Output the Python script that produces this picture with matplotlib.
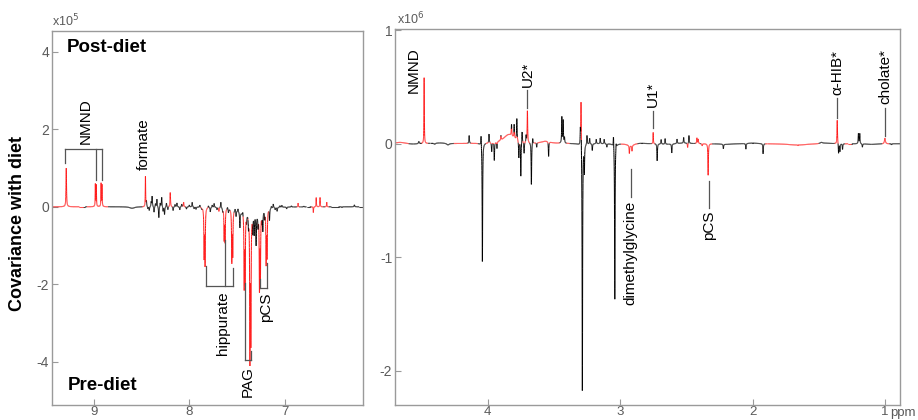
import matplotlib
matplotlib.use('Agg')
import matplotlib.pyplot as plt
import numpy as np
from matplotlib.collections import LineCollection

plt.rcParams['font.family'] = ['Liberation Sans', 'DejaVu Sans']
plt.rcParams['axes.unicode_minus'] = False

# aromatic region (left), covariance in units of 1e5
# sig = 1 -> significant correlation (drawn red)
arom_ppm = [9.29, 8.985, 8.975, 8.925, 8.915, 8.46, 8.20, 8.06,
            7.845, 7.835, 7.69, 7.635, 7.625, 7.555, 7.545, 7.425, 7.415,
            7.365, 7.355, 7.265, 7.255, 7.195, 7.185,
            6.86, 6.70, 6.67, 6.63, 6.56,
            8.60, 8.45, 8.435, 8.42, 8.40, 8.39, 8.37, 8.355, 8.34, 8.32, 8.305,
            8.29, 8.275, 8.26, 8.24, 8.225, 8.17, 8.15, 8.13, 8.10, 8.08, 8.03,
            8.00, 7.97, 7.95, 7.93, 7.89, 7.87, 7.80, 7.78, 7.76, 7.74, 7.71,
            7.67, 7.65, 7.60, 7.59, 7.52, 7.51, 7.49, 7.47, 7.44, 7.40, 7.38,
            7.335, 7.32, 7.30, 7.28, 7.24, 7.23, 7.21, 7.16, 7.14, 7.12, 7.10,
            7.08, 7.05, 7.03, 6.98, 6.93, 6.80, 6.40, 6.27,
            7.45, 7.30]
arom_cov = [1.00, 0.58, 0.56, 0.60, 0.56, 0.78, 0.37, 0.12,
            -1.25, -1.45, -0.10, -0.80, -0.85, -1.32, -1.15, -1.88, -1.70,
            -3.70, -3.20, -1.93, -1.60, -1.37, -1.20,
            0.10, -0.15, 0.24, 0.24, 0.12,
            -0.04, 0.14, -0.06, -0.10, 0.12, 0.27, -0.15, 0.08, 0.20, -0.29, 0.10,
            0.25, -0.12, -0.20, 0.10, -0.08, -0.10, 0.06, 0.10, -0.08, 0.07, -0.06,
            0.05, 0.12, -0.05, -0.06, 0.06, -0.04, 0.05, -0.12, 0.06, 0.10, -0.06,
            0.15, -0.08, 0.05, -0.10, 0.06, -0.15, 0.08, -0.40, 0.10, -0.20, -0.30,
            -0.45, -0.50, -0.77, -0.30, -0.25, -0.50, -0.20, -0.30, 0.05, 0.10, -0.06,
            -0.10, 0.04, 0.05, -0.05, 0.03, 0.02, -0.02, 0.05,
            -0.12, -0.15]
arom_hw = [0.003, 0.002, 0.002, 0.002, 0.002, 0.002, 0.003, 0.003,
           0.003, 0.003, 0.003, 0.003, 0.003, 0.003, 0.003, 0.003, 0.003,
           0.003, 0.003, 0.003, 0.003, 0.003, 0.003,
           0.002, 0.002, 0.002, 0.002, 0.002,
           0.03] + [0.003] * 62 + [0.08, 0.05]
arom_sig = [1] * 28 + [0] * 65

# aliphatic region (right), covariance in units of 1e6
aliph_ppm = [4.48, 4.66, 3.84, 3.70, 3.56, 3.295, 2.93, 2.91, 2.92, 2.75,
             2.49, 2.42, 2.41, 2.38, 2.335, 1.66, 1.36, 1.00,
             4.52, 4.40, 4.30, 4.14, 4.05, 4.04, 3.99, 3.97, 3.95, 3.93,
             3.90, 3.82, 3.80, 3.78, 3.765, 3.75, 3.74, 3.725, 3.71, 3.67, 3.66,
             3.63, 3.54, 3.44, 3.43, 3.42, 3.30, 3.285, 3.27, 3.25, 3.23, 3.21,
             3.18, 3.15, 3.12, 3.10, 3.05, 3.04, 3.03, 2.72, 2.69, 2.66, 2.61,
             2.57, 2.52, 2.48, 2.22, 2.05, 1.92, 1.48, 1.35, 1.34, 1.32, 1.20,
             1.19, 1.17, 0.95,
             4.57, 4.36, 2.85, 2.65, 2.52, 2.20, 2.00, 1.45, 1.10]
aliph_cov = [0.58, 0.012, 0.08, 0.28, 0.02, 0.43, -0.07, -0.05, -0.02, 0.10,
             -0.04, 0.05, 0.04, -0.02, -0.28, -0.012, 0.21, 0.05,
             0.02, -0.01, -0.015, 0.07, 0.10, -1.05, 0.08, -0.08, -0.16, -0.06,
             0.04, 0.10, 0.12, 0.19, -0.15, -0.31, 0.10, -0.10, 0.06, -0.37, 0.05,
             -0.04, -0.13, 0.23, 0.20, 0.05, 0.15, -2.20, -0.24, 0.08, 0.05, -0.06,
             0.04, 0.05, 0.04, -0.03, 0.11, -1.38, 0.05, -0.15, 0.04, 0.05, -0.08,
             0.04, 0.05, 0.07, -0.04, -0.05, -0.09, 0.01, -0.09, -0.07, -0.05, 0.09,
             0.09, -0.03, -0.01,
             -0.006, 0.006, 0.006, -0.006, 0.006, -0.006, 0.006, 0.006, -0.006]
aliph_hw = [0.0015, 0.05, 0.05, 0.002, 0.04, 0.0015, 0.002, 0.002, 0.03, 0.0015,
            0.002, 0.002, 0.002, 0.002, 0.002, 0.09, 0.002, 0.004,
            0.003, 0.005, 0.01] + [0.002] * 46 + [0.01] + [0.002] * 7 + [0.05] * 9
aliph_sig = [1] * 18 + [0] * 66

# annotations: text, ppm, y, vertical alignment
arom_labels = [('NMND', 9.09, 1.62, 'bottom'),
               ('formate', 8.48, 0.95, 'bottom'),
               ('hippurate', 7.65, -2.18, 'top'),
               ('PAG', 7.39, -4.12, 'top'),
               ('pCS', 7.20, -2.22, 'top')]
# brackets: leg ppm, leg end y, bar y
arom_brackets = [([9.30, 8.98, 8.92], [1.13, 0.70, 0.70], 1.49),
                 ([7.83, 7.63, 7.54], [-1.52, -0.85, -1.58], -2.06),
                 ([7.42, 7.35], [-1.96, -3.73], -3.97),
                 ([7.26, 7.19], [-1.88, -1.45], -2.10)]

# text, ppm, y, vertical alignment, leader line (y0, y1)
aliph_labels = [('NMND', 4.555, 0.65, 'center', None),
                ('U2*', 3.70, 0.50, 'bottom', (0.47, 0.31)),
                ('U1*', 2.75, 0.32, 'bottom', (0.29, 0.135)),
                ('\u03b1-HIB*', 1.36, 0.43, 'bottom', (0.40, 0.23)),
                ('cholate*', 1.00, 0.35, 'bottom', (0.31, 0.07)),
                ('dimethylglycine', 2.92, -0.50, 'top', (-0.22, -0.47)),
                ('pCS', 2.33, -0.59, 'top', (-0.33, -0.57))]

RED = '#ff1a1a'
LEAD = '#555555'
GREY = '#5a5a5a'


def draw_spectrum(ax, lo, hi, n, ppm, cov, hw, sig):
    grid = np.linspace(lo, hi, n)
    ppm = np.asarray(ppm)
    hw = np.asarray(hw)
    parts = np.asarray(cov) * hw ** 2 / ((grid[:, None] - ppm[None, :]) ** 2 + hw ** 2)
    y = parts.sum(axis=1)
    dom = np.argmax(np.abs(parts), axis=1)
    cols = np.where(np.asarray(sig)[dom] == 1, RED, 'black')
    pts = np.column_stack([grid, y])
    segs = np.stack([pts[:-1], pts[1:]], axis=1)
    lc = LineCollection(segs, colors=cols[:-1], linewidths=0.75)
    ax.add_collection(lc)


def style_axes(ax):
    for s in ax.spines.values():
        s.set_color('#9a9a9a')
        s.set_linewidth(1.0)
    ax.tick_params(direction='in', length=4, color='#9a9a9a', labelcolor=GREY,
                   labelsize=10, pad=2)
    ax.tick_params(axis='x', pad=1, labelsize=9.5)


fig = plt.figure(figsize=(9.18, 4.2), dpi=100)
fig.patch.set_facecolor('white')

ax1 = fig.add_axes([0.0566, 0.036, 0.3388, 0.8902])
draw_spectrum(ax1, 6.1, 9.5, 7000, arom_ppm, arom_cov, arom_hw, arom_sig)
ax1.set_xlim(9.44, 6.18)
ax1.set_ylim(-5.12, 4.54)
ax1.set_xticks([9, 8, 7])
ax1.set_yticks([4, 2, 0, -2, -4])
style_axes(ax1)
ax1.text(0.0, 1.004, 'x10$^5$', transform=ax1.transAxes, ha='left', va='bottom',
         color=GREY, fontsize=9)
ax1.text(0.048, 0.955, 'Post-diet', transform=ax1.transAxes, ha='left', va='center',
         fontsize=13.5, fontweight='bold')
ax1.text(0.051, 0.052, 'Pre-diet', transform=ax1.transAxes, ha='left', va='center',
         fontsize=13.5, fontweight='bold')
for legs, ends, bar in arom_brackets:
    ax1.plot([legs[0], legs[-1]], [bar, bar], color=LEAD, lw=0.9)
    for xl, yl in zip(legs, ends):
        ax1.plot([xl, xl], [bar, yl], color=LEAD, lw=0.9)
for txt, x, y, va in arom_labels:
    ax1.text(x, y, txt, rotation=90, ha='center', va=va, fontsize=11)

ax2 = fig.add_axes([0.4303, 0.036, 0.5501, 0.895])
draw_spectrum(ax2, 0.85, 4.75, 9000, aliph_ppm, aliph_cov, aliph_hw, aliph_sig)
ax2.set_xlim(4.70, 0.886)
ax2.set_ylim(-2.30, 1.01)
ax2.set_xticks([4, 3, 2, 1])
ax2.set_yticks([1, 0, -1, -2])
style_axes(ax2)
ax2.text(0.003, 1.004, 'x10$^6$', transform=ax2.transAxes, ha='left', va='bottom',
         color=GREY, fontsize=9)
ax2.text(0.981, -0.006, 'ppm', transform=ax2.transAxes, ha='left', va='top',
         color=GREY, fontsize=9.5)
for txt, x, y, va, lead in aliph_labels:
    ax2.text(x, y, txt, rotation=90, ha='center', va=va, fontsize=11)
    if lead is not None:
        ax2.plot([x, x], list(lead), color=LEAD, lw=0.9)

fig.text(0.0196, 0.469, 'Covariance with diet', rotation=90, ha='center', va='center',
         fontsize=13, fontweight='bold')

fig.savefig('out.png', dpi=100)
